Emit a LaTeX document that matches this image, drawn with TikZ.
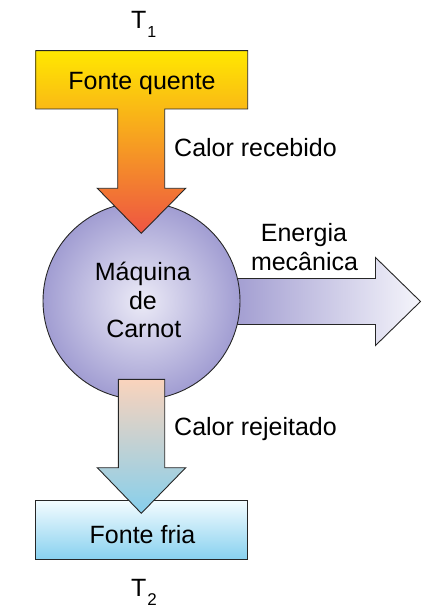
\documentclass[tikz,border=0pt]{standalone}
\usepackage{fontspec}
\setmainfont{Liberation Sans}
\begin{document}
\begin{tikzpicture}[x=1pt,y=-1pt,
  outl/.style={draw=black!85,line width=0.9pt,line join=miter},
  lbl/.style={inner sep=0pt,anchor=base,font=\fontsize{25}{30}\selectfont},
  lbll/.style={lbl,anchor=base west},
  tlbl/.style={inner sep=0pt,anchor=base west,font=\fontsize{25}{30}\selectfont}]
\useasboundingbox (0,0) rectangle (437,612);
\definecolor{hotA}{HTML}{FFE800}
\definecolor{hotB}{HTML}{F8B43A}
\definecolor{hotC}{HTML}{EE5443}
\definecolor{circIn}{HTML}{ECEBF7}
\definecolor{circOut}{HTML}{A19DD2}
\definecolor{mechA}{HTML}{9E99CF}
\definecolor{mechB}{HTML}{F5F5FB}
\definecolor{rejA}{HTML}{FAD3BC}
\definecolor{rejB}{HTML}{86CFEC}
\definecolor{coldA}{HTML}{F4FCFF}
\definecolor{coldB}{HTML}{88D1EF}
% mechanical energy arrow (behind the engine)
\shade[outl,left color=mechA,right color=mechB]
  (225,278.5) -- (375.5,278.5) -- (375.5,257.5) -- (420.5,301.5)
  -- (375.5,345.5) -- (375.5,324.5) -- (225,324.5) -- cycle;
% engine
\shade[outl,inner color=circIn,outer color=circOut] (141.5,301) circle[radius=98.5];
% hot source with heat arrow
\shade[outl,top color=hotA,middle color=hotB,bottom color=hotC]
  (35.7,50.7) -- (247.7,50.7) -- (247.7,109) -- (164.7,109) -- (164.7,188.3)
  -- (185.7,188.3) -- (141.3,233.3) -- (97.3,188.3) -- (117.7,188.3)
  -- (117.7,109) -- (35.7,109) -- cycle;
% cold source
\shade[outl,top color=coldA,bottom color=coldB] (35.7,500) rectangle (247.7,559);
% rejected heat arrow
\shade[outl,top color=rejA,bottom color=rejB]
  (118.3,379.3) -- (164.7,379.3) -- (164.7,467.7) -- (185.7,467.7)
  -- (141.3,513.3) -- (97.3,467.7) -- (118.3,467.7) -- cycle;
% texts
\node[tlbl] (t1) at (131,28.3) {T\kern1pt\raisebox{-9pt}{\fontsize{16}{16}\selectfont 1}};
\node[lbl] (hot) at (142,90) {Fonte quente};
\node[lbll] (qin) at (174,156.7) {Calor recebido};
\node[lbl] (en1) at (304,241) {Energia};
\node[lbl] (en2) at (304.5,270) {mecânica};
\node[lbl] (m1) at (142.8,280) {Máquina};
\node[lbl] (m2) at (143,309.3) {de};
\node[lbl] (m3) at (143.8,337.3) {Carnot};
\node[lbll] (qout) at (174,435.7) {Calor rejeitado};
\node[lbl] (cold) at (142.5,543.3) {Fonte fria};
\node[tlbl] (t2) at (131,596.7) {T\kern1pt\raisebox{-9pt}{\fontsize{17}{17}\selectfont 2}};
\end{tikzpicture}
\end{document}
